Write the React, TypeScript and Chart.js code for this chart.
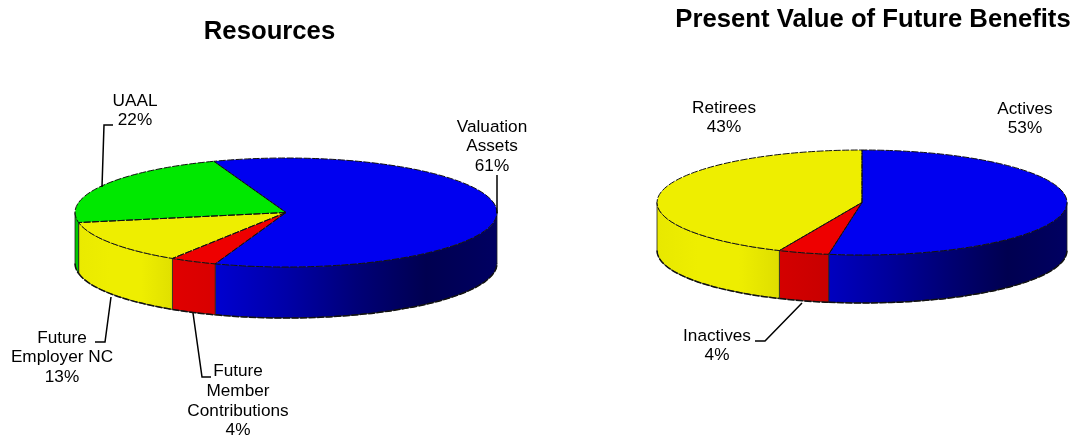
import React, { useEffect, useRef } from "react";
import { Chart, registerables } from "chart.js";

Chart.register(...registerables);

const FONT = '"Liberation Sans", Arial, sans-serif';

// ---- data ----
const resourcesCategories = ["Valuation Assets", "Future Member Contributions", "Future Employer NC", "UAAL"];
const resourcesValues = [61, 3.6, 13, 22.4];
const benefitsCategories = ["Actives", "Inactives", "Retirees"];
const benefitsValues = [52.6, 4, 43.4];

// ---- label wording, split over lines ----
const resourcesLabelLines = [["Valuation", "Assets"], ["Future", "Member", "Contributions"], ["Future", "Employer NC"], ["UAAL"]];
const benefitsLabelLines = [["Actives"], ["Inactives"], ["Retirees"]];

// ---- styles ----
const topColorsResources = ["#0000f0", "#ee0000", "#eeee00", "#00e800"];
const topColorsBenefits = ["#0000f0", "#ee0000", "#eeee00"];
const wallResources = [
  ["#0000d0", "#0000a8", "#000078", "#000050", "#000062"],
  ["#e00000", "#d80000"],
  ["#eaea00", "#eeee00", "#eeee00", "#e0e000"],
  ["#00c800", "#00c800"],
];
const wallBenefits = [
  ["#0000c0", "#00009c", "#000074", "#000050", "#000062"],
  ["#d40000", "#c80000"],
  ["#e8e800", "#eeee00", "#eeee00", "#dede00"],
];

type Config = {
  title: string;
  titleTop: number;
  left: number;
  width: number;
  rotation: number;
  categories: string[];
  values: number[];
  lines: string[][];
  colors: string[];
  walls: string[][];
  ellipse: { cx: number; cy: number; rx: number; ry: number; depth: number };
  labelPos: { x: number; y: number }[];
  leaders: number[][][];
};

const charts: Config[] = [
  {
    title: "Resources",
    titleTop: 16.5,
    left: 0,
    width: 539,
    rotation: -20,
    categories: resourcesCategories,
    values: resourcesValues,
    lines: resourcesLabelLines,
    colors: topColorsResources,
    walls: wallResources,
    ellipse: { cx: 286, cy: 212.5, rx: 211, ry: 54.5, depth: 51 },
    labelPos: [
      { x: 492, y: 127 },
      { x: 238, y: 371.5 },
      { x: 62, y: 338 },
      { x: 135, y: 101 },
    ],
    leaders: [
      [[497, 175], [497, 213]],
      [[193, 313], [202, 377], [211, 377]],
      [[111, 297], [105, 342], [95, 342]],
      [[102, 187], [104, 125], [113, 125]],
    ],
  },
  {
    title: "Present Value of Future Benefits",
    titleTop: 4.5,
    left: 640,
    width: 466,
    rotation: 0,
    categories: benefitsCategories,
    values: benefitsValues,
    lines: benefitsLabelLines,
    colors: topColorsBenefits,
    walls: wallBenefits,
    ellipse: { cx: 862, cy: 202.5, rx: 205, ry: 52.5, depth: 48 },
    labelPos: [
      { x: 1025, y: 109 },
      { x: 717, y: 336 },
      { x: 724, y: 108 },
    ],
    leaders: [[], [[802, 303], [765, 341], [755, 341]], []],
  },
];

const TAU = Math.PI * 2;

function pie3d(cfg: Config) {
  const e = cfg.ellipse;
  const ox = cfg.left; // page-to-canvas offset
  const cx = e.cx - ox;
  return {
    id: "pie3d",
    beforeDatasetsDraw(chart: any) {
      const ctx: CanvasRenderingContext2D = chart.ctx;
      const arcs = chart.getDatasetMeta(0).data;
      ctx.save();
      arcs.forEach((arc: any, i: number) => {
        let s = arc.startAngle % TAU;
        if (s < 0) s += TAU;
        const e2 = s + (arc.endAngle - arc.startAngle);
        // the front half of the rim is 0..PI, also seen again at TAU..TAU+PI
        [[0, Math.PI], [TAU, TAU + Math.PI]].forEach(([lo, hi]) => {
          const a = Math.max(s, lo);
          const b = Math.min(e2, hi);
          if (b <= a) return;
          const xa = cx + e.rx * Math.cos(a);
          const xb = cx + e.rx * Math.cos(b);
          const grad = ctx.createLinearGradient(Math.min(xa, xb), 0, Math.max(xa, xb), 0);
          const stops = cfg.walls[i];
          stops.forEach((c, k) => grad.addColorStop(k / (stops.length - 1), c));
          ctx.beginPath();
          ctx.ellipse(cx, e.cy, e.rx, e.ry, 0, a, b, false);
          ctx.lineTo(xb, e.cy + e.ry * Math.sin(b) + e.depth);
          ctx.ellipse(cx, e.cy + e.depth, e.rx, e.ry, 0, b, a, true);
          ctx.closePath();
          ctx.fillStyle = grad;
          ctx.fill();
          ctx.lineWidth = 0.8;
          ctx.strokeStyle = "#222";
          ctx.stroke();
          // heavier, slightly broken lower rim
          ctx.beginPath();
          ctx.ellipse(cx, e.cy + e.depth, e.rx, e.ry, 0, b, a, true);
          ctx.lineWidth = 1.5;
          ctx.setLineDash([7, 1.5]);
          ctx.strokeStyle = "#111";
          ctx.stroke();
          ctx.setLineDash([]);
        });
      });
      ctx.restore();
      const first = arcs[0];
      const R = first.outerRadius;
      ctx.save();
      ctx.translate(cx, e.cy);
      ctx.scale(e.rx / R, e.ry / R);
      ctx.translate(-first.x, -first.y);
    },
    afterDatasetsDraw(chart: any) {
      const ctx: CanvasRenderingContext2D = chart.ctx;
      ctx.restore();
      const arcs = chart.getDatasetMeta(0).data;
      ctx.save();
      ctx.lineWidth = 1;
      ctx.strokeStyle = "#111";
      ctx.setLineDash([7, 1.5]);
      arcs.forEach((arc: any) => {
        ctx.beginPath();
        ctx.moveTo(cx, e.cy);
        ctx.ellipse(cx, e.cy, e.rx, e.ry, 0, arc.startAngle, arc.endAngle, false);
        ctx.closePath();
        ctx.stroke();
      });
      ctx.setLineDash([]);
      // leader lines
      ctx.strokeStyle = "#000";
      ctx.lineWidth = 1.5;
      cfg.leaders.forEach((pts) => {
        if (!pts.length) return;
        ctx.beginPath();
        pts.forEach(([x, y], k) => (k ? ctx.lineTo(x - ox, y) : ctx.moveTo(x - ox, y)));
        ctx.stroke();
      });
      // data labels
      ctx.fillStyle = "#000";
      ctx.font = `17.2px ${FONT}`;
      ctx.textAlign = "center";
      ctx.textBaseline = "middle";
      cfg.categories.forEach((_, i) => {
        const lines = [...cfg.lines[i], `${Math.round(cfg.values[i])}%`];
        lines.forEach((t, k) => ctx.fillText(t, cfg.labelPos[i].x - ox, cfg.labelPos[i].y + k * 19.7));
      });
      ctx.restore();
    },
  };
}

function Pie({ cfg }: { cfg: Config }) {
  const ref = useRef<HTMLCanvasElement>(null);
  useEffect(() => {
    const chart = new Chart(ref.current!, {
      type: "pie",
      data: {
        labels: cfg.categories,
        datasets: [
          {
            data: cfg.values,
            backgroundColor: cfg.colors,
            borderWidth: 0,
            clip: false,
          } as any,
        ],
      },
      options: {
        responsive: false,
        animation: false,
        rotation: cfg.rotation,
        plugins: {
          legend: { display: false },
          tooltip: { enabled: false },
          title: {
            display: true,
            text: cfg.title,
            color: "#000",
            font: { family: FONT, size: 25.7, weight: "bold" },
            padding: { top: cfg.titleTop, bottom: 0 },
          },
        },
      },
      plugins: [pie3d(cfg)],
    });
    return () => chart.destroy();
  }, [cfg]);
  return (
    <canvas
      ref={ref}
      width={cfg.width}
      height={436}
      style={{ position: "absolute", left: cfg.left, top: 0, display: "block" }}
    />
  );
}

export default function App() {
  return (
    <div style={{ position: "absolute", left: 0, top: 0, width: 1076, height: 436, overflow: "hidden", background: "#fff" }}>
      {charts.map((c) => (
        <Pie key={c.title} cfg={c} />
      ))}
    </div>
  );
}
